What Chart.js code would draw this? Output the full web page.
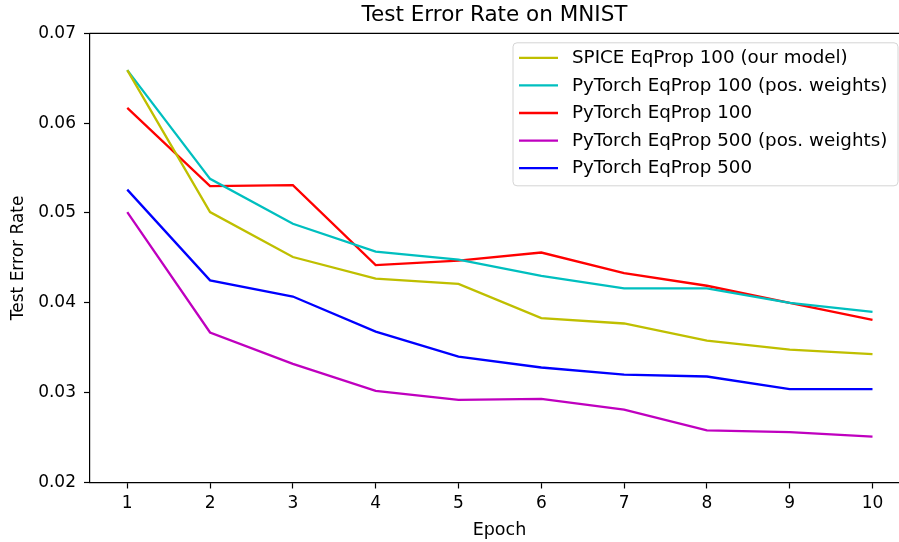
<!doctype html>
<html>
    <head>
        <title>Test Error Rate on MNIST</title>
        <script src="https://cdn.jsdelivr.net/npm/chart.js@4/dist/chart.umd.min.js"></script>
        <style>
            body { margin: 0; background: #fff; overflow: hidden; }
        </style>
    </head>

    <body>
        <canvas id="myChart" width="899" height="542"></canvas>
        <script>
            // values
            var epochs = [1, 2, 3, 4, 5, 6, 7, 8, 9, 10];
            var yTicks = [0.02, 0.03, 0.04, 0.05, 0.06, 0.07];

            var spice100 = [0.0659, 0.0501, 0.0451, 0.0427, 0.0421, 0.0383, 0.0377, 0.0358, 0.0348, 0.0343];
            var torch100Pos = [0.0659, 0.0538, 0.0488, 0.0457, 0.0448, 0.0430, 0.0416, 0.0416, 0.0400, 0.0390];
            var torch100 = [0.0617, 0.0530, 0.0531, 0.0442, 0.0447, 0.0456, 0.0433, 0.0419, 0.0400, 0.0381];
            var torch500Pos = [0.0501, 0.0367, 0.0332, 0.0302, 0.0292, 0.0293, 0.0281, 0.0258, 0.0256, 0.0251];
            var torch500 = [0.0526, 0.0425, 0.0407, 0.0368, 0.0340, 0.0328, 0.0320, 0.0318, 0.0304, 0.0304];

            var seriesLabels = [
                "SPICE EqProp 100 (our model)",
                "PyTorch EqProp 100 (pos. weights)",
                "PyTorch EqProp 100",
                "PyTorch EqProp 500 (pos. weights)",
                "PyTorch EqProp 500"
            ];
            var seriesValues = [spice100, torch100Pos, torch100, torch500Pos, torch500];
            var seriesColors = ['#bfbf00', '#00bfbf', '#ff0000', '#bf00bf', '#0000ff'];

            var chartTitle = 'Test Error Rate on MNIST';
            var xTitle = 'Epoch';

            var FONT = "'DejaVu Sans', sans-serif";

            var datasets = [];
            for (var i = 0; i < seriesValues.length; i++) {
                var pts = [];
                for (var k = 0; k < epochs.length; k++) {
                    pts.push({ x: epochs[k], y: seriesValues[i][k] });
                }
                datasets.push({
                    label: seriesLabels[i],
                    data: pts,
                    borderColor: seriesColors[i],
                    backgroundColor: seriesColors[i],
                    borderWidth: 2.3,
                    pointRadius: 0,
                    tension: 0,
                    fill: false
                });
            }

            // title, x label, top spine and a matplotlib style legend box
            // (the original axes run a bit past the right edge of the picture,
            //  so the centred texts sit slightly right of the visible plot centre)
            var boxPlugin = {
                id: 'boxPlugin',
                afterDraw: function (chart) {
                    var ctx = chart.ctx;
                    var a = chart.chartArea;
                    ctx.save();
                    ctx.strokeStyle = '#000';
                    ctx.lineWidth = 1.2;
                    ctx.beginPath();
                    ctx.moveTo(a.left - 0.6, a.top);
                    ctx.lineTo(a.right, a.top);
                    ctx.stroke();

                    ctx.fillStyle = '#000';
                    ctx.textAlign = 'center';
                    ctx.textBaseline = 'middle';
                    ctx.font = '21.5px ' + FONT;
                    ctx.fillText(chartTitle, (a.left + a.right) / 2, 15);
                    ctx.font = '17.5px ' + FONT;
                    ctx.fillText(xTitle, (a.left + a.right) / 2 + 5, 530);

                    var ds = chart.data.datasets;
                    var bx = 513, by = a.top + 9.5, bw = a.right - 1 - bx, bh = 143;
                    ctx.fillStyle = 'rgba(255,255,255,0.8)';
                    ctx.strokeStyle = '#d4d4d4';
                    ctx.lineWidth = 1;
                    ctx.beginPath();
                    ctx.roundRect(bx, by, bw, bh, 4);
                    ctx.fill();
                    ctx.stroke();

                    ctx.font = '18.3px ' + FONT;
                    ctx.textAlign = 'left';
                    for (var j = 0; j < ds.length; j++) {
                        var cy = by + 15 + j * 27.6;
                        ctx.strokeStyle = ds[j].borderColor;
                        ctx.lineWidth = 2.3;
                        ctx.beginPath();
                        ctx.moveTo(519, cy);
                        ctx.lineTo(558, cy);
                        ctx.stroke();
                        ctx.fillStyle = '#000';
                        ctx.fillText(ds[j].label, 572, cy + 0.5);
                    }
                    ctx.restore();
                }
            };

            var ctx = document.getElementById('myChart').getContext('2d');
            var myChart = new Chart(ctx, {
                type: 'line',
                data: { datasets: datasets },
                plugins: [boxPlugin],
                options: {
                    responsive: false,
                    animation: false,
                    layout: { padding: { top: 33.3, left: 0, right: 0, bottom: 0 } },
                    plugins: {
                        legend: { display: false },
                        tooltip: { enabled: false },
                        title: { display: false }
                    },
                    scales: {
                        x: {
                            type: 'linear',
                            min: 0.55,
                            max: 10.32,
                            afterFit: function (s) { s.height = 59.5; },
                            afterBuildTicks: function (s) {
                                s.ticks = epochs.map(function (v) { return { value: v }; });
                            },
                            grid: {
                                drawOnChartArea: false,
                                drawTicks: true,
                                tickLength: 6,
                                tickColor: '#000',
                                tickWidth: 1.2
                            },
                            border: { display: true, color: '#000', width: 1.2 },
                            ticks: {
                                color: '#000',
                                padding: 5,
                                maxRotation: 0,
                                font: { family: FONT, size: 17 },
                                callback: function (v) { return String(v); }
                            }
                        },
                        y: {
                            min: 0.02,
                            max: 0.07,
                            afterFit: function (s) { s.width = 90; },
                            afterBuildTicks: function (s) {
                                s.ticks = yTicks.map(function (v) { return { value: v }; });
                            },
                            grid: {
                                drawOnChartArea: false,
                                drawTicks: true,
                                tickLength: 6,
                                tickColor: '#000',
                                tickWidth: 1.2
                            },
                            border: { display: true, color: '#000', width: 1.2 },
                            ticks: {
                                color: '#000',
                                padding: 8,
                                font: { family: FONT, size: 17 },
                                callback: function (v) { return Number(v).toFixed(2); }
                            },
                            title: {
                                display: true,
                                text: 'Test Error Rate',
                                color: '#000',
                                font: { family: FONT, size: 17 },
                                padding: { top: 8.5, bottom: 0 }
                            }
                        }
                    }
                }
            });
        </script>
    </body>

</html>
